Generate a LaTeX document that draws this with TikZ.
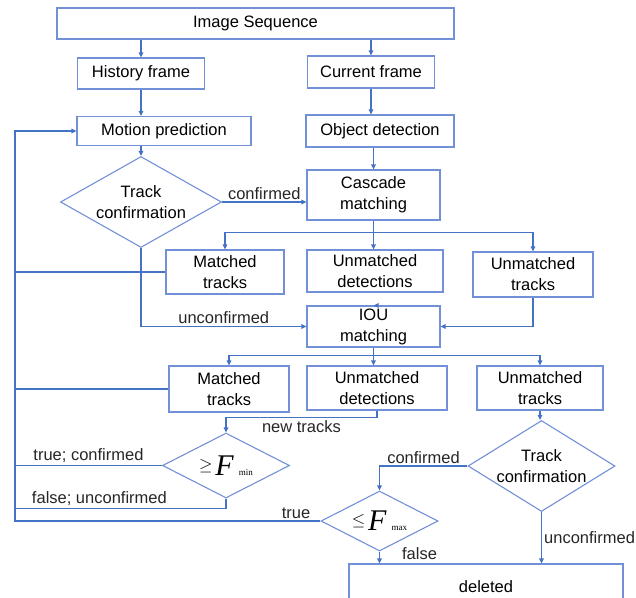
\documentclass[tikz,border=0pt]{standalone}
\usepackage{fontspec}
\setmainfont{Liberation Sans}
\newfontfamily\formfont{Liberation Serif}
\usetikzlibrary{shapes.geometric,arrows.meta}
\definecolor{boxblue}{RGB}{114,144,216}
\definecolor{lineblue}{RGB}{68,114,196}
\newcommand{\thr}[2]{{\formfont\fontsize{17}{17}\selectfont\raisebox{5pt}{#1}\,\fontsize{30}{30}\selectfont\textit{F}\,\fontsize{9}{9}\selectfont#2}}
\begin{document}
\begin{tikzpicture}[x=1pt,y=-1pt,
	font=\fontsize{16.5}{21}\selectfont,
	box/.style={rectangle, draw=boxblue, line width=1.1pt, inner sep=0pt, align=center},
	decision/.style={diamond, draw=boxblue, line width=1.1pt, inner sep=-8pt, align=center},
	link/.style={draw=lineblue, line width=1.3pt},
	arrow/.style={link, -{Triangle[length=5pt,width=4.5pt]}},
	lbl/.style={inner sep=2pt, text=black!85}]
	\clip (0,0) rectangle (636,597);
	\node[box, minimum width=397, minimum height=31] (imgseq) at (255.5,23.5) {Image Sequence};
	\node[box, minimum width=127, minimum height=31] (history) at (141,73.5) {History frame};
	\node[box, minimum width=127, minimum height=32] (current) at (371,72) {Current frame};
	\node[box, minimum width=174, minimum height=29] (motion) at (164,131) {Motion prediction};
	\node[box, minimum width=148, minimum height=32] (objdet) at (380,131) {Object detection};
	\node[decision, minimum width=161, minimum height=80] (track1) at (141,202) {Track\\confirmation};
	\node[box, minimum width=133, minimum height=50] (cascade) at (373.5,195) {Cascade\\matching};
	\node[box, minimum width=118, minimum height=44] (mt1) at (225,272) {Matched\\tracks};
	\node[box, minimum width=136, minimum height=42] (ud1) at (375,271) {Unmatched\\detections};
	\node[box, minimum width=120, minimum height=45] (ut1) at (533,274.5) {Unmatched\\tracks};
	\node[box, minimum width=133, minimum height=41] (iou) at (373.5,326.5) {IOU\\matching};
	\node[box, minimum width=120, minimum height=46] (mt2) at (229,389) {Matched\\tracks};
	\node[box, minimum width=140, minimum height=44] (ud2) at (377,388) {Unmatched\\detections};
	\node[box, minimum width=126, minimum height=44] (ut2) at (540,388) {Unmatched\\tracks};
	\node[decision, minimum width=127, minimum height=65] (fmin) at (226,465.5) {\thr{$\geq$}{min}};
	\node[decision, minimum width=147, minimum height=82] (track2) at (541.5,466) {Track\\confirmation};
	\node[decision, minimum width=117, minimum height=60] (fmax) at (379.5,521) {\thr{$\leq$}{max}};
	\node[box, minimum width=274, minimum height=46] (deleted) at (486,587) {deleted};
	\coordinate (bustop) at (15,131);
	% feed
	\draw[arrow] (history.north |- imgseq.south) -- (history.north);
	\draw[arrow] (current.north |- imgseq.south) -- (current.north);
	\draw[arrow] (history.south) -- (history.south |- motion.north);
	\draw[arrow] (current.south) -- (current.south |- objdet.north);
	\draw[arrow] (track1.north |- motion.south) -- (track1.north);
	\draw[arrow] (cascade.north |- objdet.south) -- (cascade.north);
	\draw[arrow] (track1.east) -- node[lbl, above] {confirmed} (track1.east -| cascade.west);
	% cascade matching
	\draw[arrow] (cascade.south) -- (cascade.south |- ud1.north);
	\draw[arrow] (cascade.south) -- ++(0,12) -| (mt1.north);
	\draw[arrow] (cascade.south) -- ++(0,12) -| (ut1.north);
	\draw[link] (mt1.west) -- (mt1.west -| bustop);
	\draw[arrow] (track1.south) |- node[lbl, above, pos=0.75] {unconfirmed} (iou.west);
	\draw[arrow] (iou.north -| ud1.south) -- (iou.north);
	\draw[arrow] (ut1.south) |- (iou.east);
	% iou matching
	\draw[arrow] (iou.south) -- (iou.south |- ud2.north);
	\draw[arrow] (iou.south) -- ++(0,8) -| (mt2.north);
	\draw[arrow] (iou.south) -- ++(0,8) -| (ut2.north);
	\draw[link] (mt2.west) -- (mt2.west -| bustop);
	\draw[arrow] (ud2.south) -- ++(0,7) -| node[lbl, below, pos=0.25] {new tracks} (fmin.north);
	\draw[link] (fmin.west) -- node[lbl, above] {true; confirmed} (fmin.west -| bustop);
	\draw[link] (fmin.south) -- ++(0,10) coordinate (fneg) -- node[lbl, above, pos=0.6] {false; unconfirmed} (fneg -| bustop);
	\draw[arrow] (fmax.west) -- node[lbl, above, pos=0.08] {true} (fmax.west -| bustop) -- (bustop) -- (motion.west);
	% unmatched tracks
	\draw[arrow] (ut2.south) -- (ut2.south |- track2.north);
	\draw[arrow] (track2.west) -| node[lbl, above, pos=0.25] {confirmed} (fmax.north);
	\draw[arrow] (track2.south) -- node[lbl, right] {unconfirmed} (track2.south |- deleted.north);
	\draw[arrow] (fmax.south) -- node[lbl, right=20pt, pos=0.2] {false} (fmax.south |- deleted.north);
\end{tikzpicture}
\end{document}
